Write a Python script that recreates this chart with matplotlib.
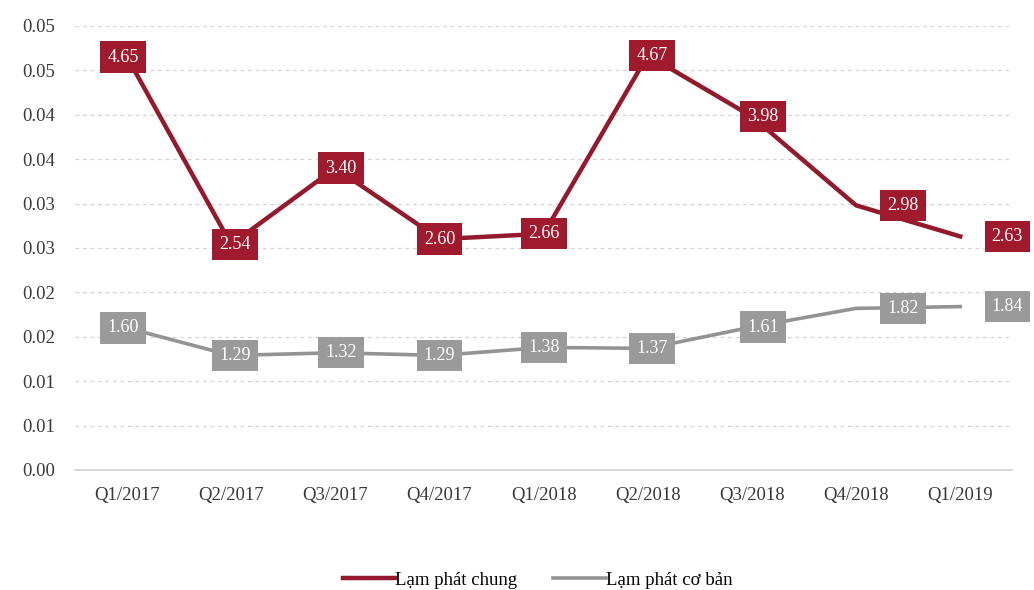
"""Quarterly inflation: headline vs core, Q1/2017 - Q1/2019."""
from decimal import Decimal, ROUND_HALF_UP

import matplotlib
matplotlib.use("Agg")
import matplotlib.pyplot as plt
from matplotlib.ticker import FuncFormatter, MultipleLocator

quarters = ["Q1/2017", "Q2/2017", "Q3/2017", "Q4/2017", "Q1/2018",
            "Q2/2018", "Q3/2018", "Q4/2018", "Q1/2019"]
lam_phat_chung = [4.65, 2.54, 3.40, 2.60, 2.66, 4.67, 3.98, 2.98, 2.63]
lam_phat_co_ban = [1.60, 1.29, 1.32, 1.29, 1.38, 1.37, 1.61, 1.82, 1.84]
series_names = ["Lạm phát chung", "Lạm phát cơ bản"]

RED = "#921a2c"
RED_BOX = "#a01a2e"
GRAY = "#939393"
GRAY_BOX = "#9a9a9a"

plt.rcParams["font.family"] = ["Liberation Serif", "DejaVu Serif"]

fig = plt.figure(figsize=(10.34, 5.90), dpi=100)
ax = fig.add_axes([0.0725, 0.2034, 0.979 - 0.0725, 0.956 - 0.2034])

x = list(range(len(quarters)))
chung = [v / 100 for v in lam_phat_chung]
coban = [v / 100 for v in lam_phat_co_ban]

ax.plot(x, chung, color=RED, lw=3.2, solid_joinstyle="round", zorder=3,
        label=series_names[0])
ax.plot(x, coban, color=GRAY, lw=2.6, solid_joinstyle="round", zorder=3,
        label=series_names[1])

# label boxes; the last two are nudged right of the point
label_dx = [-3, 3, 4, 0, 0, 3, 8, 34, 34]
for i in x:
    for vals, raw, box in ((chung, lam_phat_chung, RED_BOX),
                           (coban, lam_phat_co_ban, GRAY_BOX)):
        ax.annotate(f"{raw[i]:.2f}", (i, vals[i]), xytext=(label_dx[i], 0),
                    textcoords="offset points", ha="center", va="center",
                    color="white", fontsize=13, zorder=5, clip_on=False,
                    bbox=dict(boxstyle="square,pad=0.4", fc=box, ec="none"))

ax.set_xlim(-0.5, len(quarters) - 0.5)
ax.set_ylim(0, 0.05)
ax.yaxis.set_major_locator(MultipleLocator(0.005))


def half_up(v, _pos):
    d = Decimal(str(round(float(v), 6))).quantize(Decimal("0.01"),
                                                  rounding=ROUND_HALF_UP)
    return f"{d:.2f}"


ax.yaxis.set_major_formatter(FuncFormatter(half_up))
ax.set_xticks(x)
ax.set_xticklabels(quarters)
ax.tick_params(axis="both", length=0, labelsize=13.5, colors="#3a3a3a")
ax.tick_params(axis="y", pad=14)
ax.tick_params(axis="x", pad=12)

ax.grid(axis="y", color="#d4d4d4", lw=0.9, ls=(0, (3, 3)))
for side in ("top", "right", "left"):
    ax.spines[side].set_visible(False)
ax.spines["bottom"].set_color("#d0d0d0")
ax.spines["bottom"].set_linewidth(1.2)

fig.legend(loc="lower center", bbox_to_anchor=(0.52, -0.027), ncol=2,
           frameon=False, fontsize=13.5, handlelength=2.8, handletextpad=0.0,
           columnspacing=1.9)

fig.savefig("out.png", dpi=100, facecolor="white")
